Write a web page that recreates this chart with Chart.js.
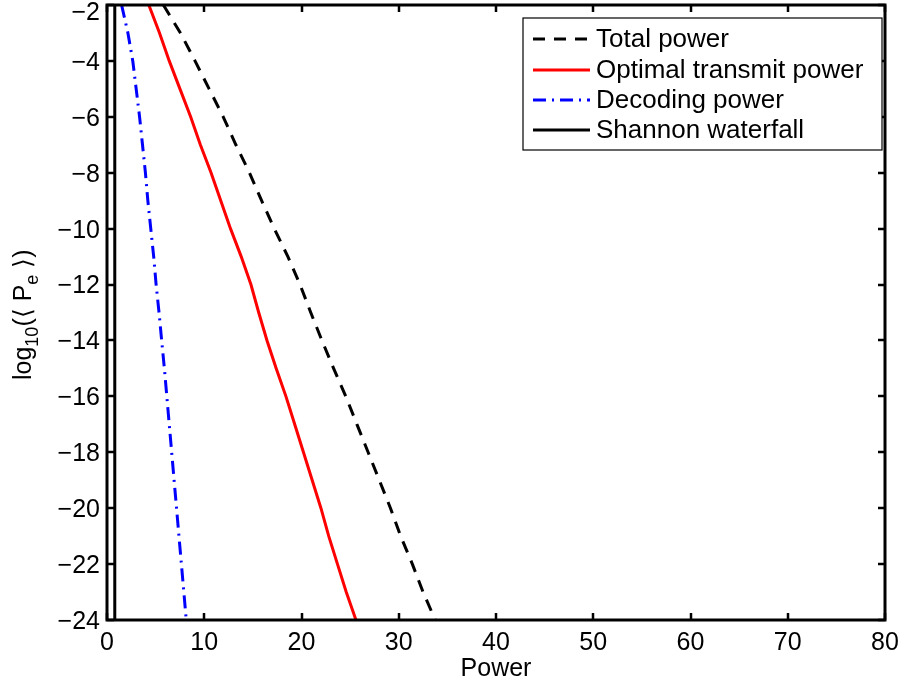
<!DOCTYPE html>
<html><head><meta charset="utf-8">
<script src="https://cdn.jsdelivr.net/npm/chart.js@4.4.1/dist/chart.umd.min.js"></script>
<style>html,body{margin:0;padding:0;background:#fff;}canvas{display:block;}</style>
</head><body>
<canvas id="c" width="903" height="682"></canvas>
<script>
// ---- data ----
const logPe = [-2,-3,-4,-5,-6,-7,-8,-9,-10,-11,-12,-13,-14,-15,-16,-17,-18,-19,-20,-21,-22,-23,-24];
const totalPower = [5.8,7.55,9.05,10.5,11.95,13.25,14.65,15.9,17.2,18.6,19.85,20.95,22.1,23.3,24.55,25.7,26.85,28.0,29.15,30.2,31.4,32.5,33.75];
const transmitPower = [4.3,5.4,6.4,7.5,8.6,9.6,10.7,11.7,12.7,13.8,14.8,15.6,16.45,17.4,18.4,19.3,20.2,21.1,22.0,22.8,23.7,24.6,25.6];
const decodingPower = [1.5,2.15,2.65,3.0,3.35,3.65,3.95,4.2,4.5,4.8,5.05,5.35,5.62,5.9,6.15,6.4,6.65,6.9,7.15,7.4,7.65,7.9,8.15];
const shannonX = [0.8, 0.8];
const shannonY = [-2, -24];
const seriesNames = ['Total power','Optimal transmit power','Decoding power','Shannon waterfall'];
const xTicks = [0,10,20,30,40,50,60,70,80];
const yTicks = [-2,-4,-6,-8,-10,-12,-14,-16,-18,-20,-22,-24];
const xTitle = 'Power';

const FONT = "'Liberation Sans', Arial, sans-serif";
const FS = 25;
const pts = (xs, ys) => xs.map((x, i) => ({x: x, y: ys[i]}));
const fmt = v => String(v).replace('-', '\u2212');

const frameAndLegend = {
  id: 'frameAndLegend',
  afterDraw(chart) {
    const ctx = chart.ctx;
    const a = chart.chartArea;
    const xs = chart.scales.x, ys = chart.scales.y;
    ctx.save();
    ctx.strokeStyle = '#000';
    // ticks (inward, all four sides)
    ctx.lineWidth = 2.5;
    const TL = 7;
    ctx.beginPath();
    xTicks.forEach(v => {
      const px = Math.round(xs.getPixelForValue(v)) ;
      ctx.moveTo(px, a.bottom); ctx.lineTo(px, a.bottom - TL);
      ctx.moveTo(px, a.top); ctx.lineTo(px, a.top + TL);
    });
    yTicks.forEach(v => {
      const py = Math.round(ys.getPixelForValue(v));
      ctx.moveTo(a.left, py); ctx.lineTo(a.left + TL, py);
      ctx.moveTo(a.right, py); ctx.lineTo(a.right - TL, py);
    });
    ctx.stroke();
    // box
    ctx.lineWidth = 3;
    ctx.strokeRect(a.left, a.top, a.right - a.left, a.bottom - a.top);

    // y tick labels (kept inside the canvas like the reference)
    ctx.fillStyle = '#000';
    ctx.font = FS + 'px ' + FONT;
    ctx.textAlign = 'right';
    ctx.textBaseline = 'middle';
    yTicks.forEach(v => {
      const py = ys.getPixelForValue(v);
      ctx.fillText(fmt(v), a.left - 7, Math.max(py + 2, 13));
    });

    // legend
    const lx = 523, ly = 18, lw = 359, lh = 132;
    ctx.fillStyle = '#fff';
    ctx.fillRect(lx, ly, lw, lh);
    ctx.lineWidth = 1.2;
    ctx.strokeRect(lx, ly, lw, lh);
    const rows = [39, 70, 100, 130];
    chart.data.datasets.forEach((ds, i) => {
      const y = rows[i];
      ctx.save();
      ctx.strokeStyle = ds.borderColor;
      ctx.lineWidth = ds.borderWidth;
      ctx.setLineDash(ds.borderDash || []);
      ctx.beginPath();
      ctx.moveTo(533, y); ctx.lineTo(590, y);
      ctx.stroke();
      ctx.restore();
      ctx.fillStyle = '#000';
      ctx.font = '26px ' + FONT;
      ctx.textBaseline = 'middle';
      ctx.textAlign = 'left';
      ctx.fillText(ds.label, 596, y + 1);
    });

    // y-axis title with subscripts
    ctx.save();
    ctx.translate(31, 380);
    ctx.rotate(-Math.PI / 2);
    ctx.fillStyle = '#000';
    ctx.textBaseline = 'alphabetic';
    ctx.textAlign = 'left';
    const big = FS + 'px ' + FONT, small = '18px ' + FONT;
    const parts = [['log', big, 0], ['10', small, 7], ['(\u27E8 P', big, 0], ['e', small, 7], [' \u27E9)', big, 0]];
    let cx = 0;
    parts.forEach(p => {
      ctx.font = p[1];
      ctx.fillText(p[0], cx, p[2]);
      cx += ctx.measureText(p[0]).width;
    });
    ctx.restore();
    ctx.restore();
  }
};

new Chart(document.getElementById('c'), {
  type: 'line',
  data: {
    datasets: [
      {label: seriesNames[0], data: pts(totalPower, logPe), borderColor: '#000000', borderWidth: 3, borderDash: [12, 9]},
      {label: seriesNames[1], data: pts(transmitPower, logPe), borderColor: '#ff0000', borderWidth: 3},
      {label: seriesNames[2], data: pts(decodingPower, logPe), borderColor: '#0000ff', borderWidth: 3, borderDash: [13, 6, 2, 6]},
      {label: seriesNames[3], data: pts(shannonX, shannonY), borderColor: '#000000', borderWidth: 3}
    ]
  },
  options: {
    responsive: false,
    animation: false,
    devicePixelRatio: 1,
    layout: {padding: {left: 0, top: 5, right: 18, bottom: 0}},
    elements: {point: {radius: 0}, line: {tension: 0, fill: false}},
    plugins: {legend: {display: false}, tooltip: {enabled: false}},
    scales: {
      x: {
        type: 'linear', min: 0, max: 80,
        afterBuildTicks: s => { s.ticks = xTicks.map(v => ({value: v})); },
        afterFit: s => { s.height = 62; s.paddingLeft = 0; s.paddingRight = 0; },
        grid: {display: false, drawTicks: false},
        border: {display: false},
        ticks: {font: {family: FONT, size: FS}, color: '#000', padding: 8, maxRotation: 0},
        title: {display: true, text: xTitle, color: '#000', font: {family: FONT, size: FS}, padding: {top: 0, bottom: -2}}
      },
      y: {
        type: 'linear', min: -24, max: -2,
        afterBuildTicks: s => { s.ticks = yTicks.map(v => ({value: v})); },
        afterFit: s => { s.width = 107; s.paddingTop = 0; s.paddingBottom = 0; },
        grid: {display: false, drawTicks: false},
        border: {display: false},
        ticks: {display: false, font: {family: FONT, size: FS}, callback: fmt}
      }
    }
  },
  plugins: [frameAndLegend]
});
</script>
</body></html>
